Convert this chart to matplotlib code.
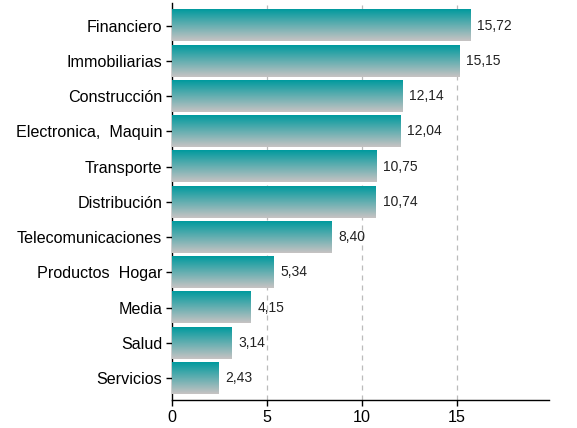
import matplotlib
matplotlib.use("Agg")
import matplotlib.pyplot as plt
import numpy as np
from matplotlib.colors import LinearSegmentedColormap

categories = ["Financiero", "Immobiliarias", "Construcción", "Electronica,  Maquin",
              "Transporte", "Distribución", "Telecomunicaciones", "Productos  Hogar",
              "Media", "Salud", "Servicios"]
values = [15.72, 15.15, 12.14, 12.04, 10.75, 10.74, 8.40, 5.34, 4.15, 3.14, 2.43]
xticks = [0, 5, 10, 15]

plt.rcParams['font.family'] = ['Liberation Sans', 'DejaVu Sans']

fig = plt.figure(figsize=(5.77, 4.28), dpi=100)
ax = fig.add_axes([172/577, 1-400/428, (549-172)/577, (400-3)/428])

cmap = LinearSegmentedColormap.from_list("g", ["#c8c3c3", "#009a9e"])
grad = np.linspace(0, 1, 256).reshape(-1, 1)

n = len(categories)
ypos = np.arange(n)  # 0 = top
h = 0.9

for i, (c, v) in enumerate(zip(categories, values)):
    y = ypos[i]
    ax.imshow(grad, cmap=cmap, aspect='auto', origin='lower',
              extent=[0, v, y + h/2, y - h/2], zorder=3, interpolation='bilinear')
    ax.text(v + 0.35, y, f"{v:.2f}".replace('.', ','), va='center', ha='left',
            fontsize=10, color='#222222', zorder=4)

ax.set_xlim(0, 19.85)
ax.set_ylim(n - 1 + 0.62, -0.64)
ax.set_yticks(ypos)
ax.set_yticklabels(categories, fontsize=11.6)
ax.set_xticks(xticks)
ax.set_xticklabels([str(t) for t in xticks], fontsize=11.6)
for t in xticks[1:]:
    ax.axvline(t, color='#bbbbbb', linestyle=(0, (4, 4)), linewidth=0.9, zorder=1)

for s in ['top', 'right']:
    ax.spines[s].set_visible(False)
ax.spines['left'].set_linewidth(1.0)
ax.spines['bottom'].set_linewidth(1.0)
ax.spines['left'].set_zorder(2)
ax.tick_params(axis='both', length=4, width=1, color='black', labelcolor='black')
ax.tick_params(axis='y', pad=3)

fig.savefig("out.png", dpi=100)
